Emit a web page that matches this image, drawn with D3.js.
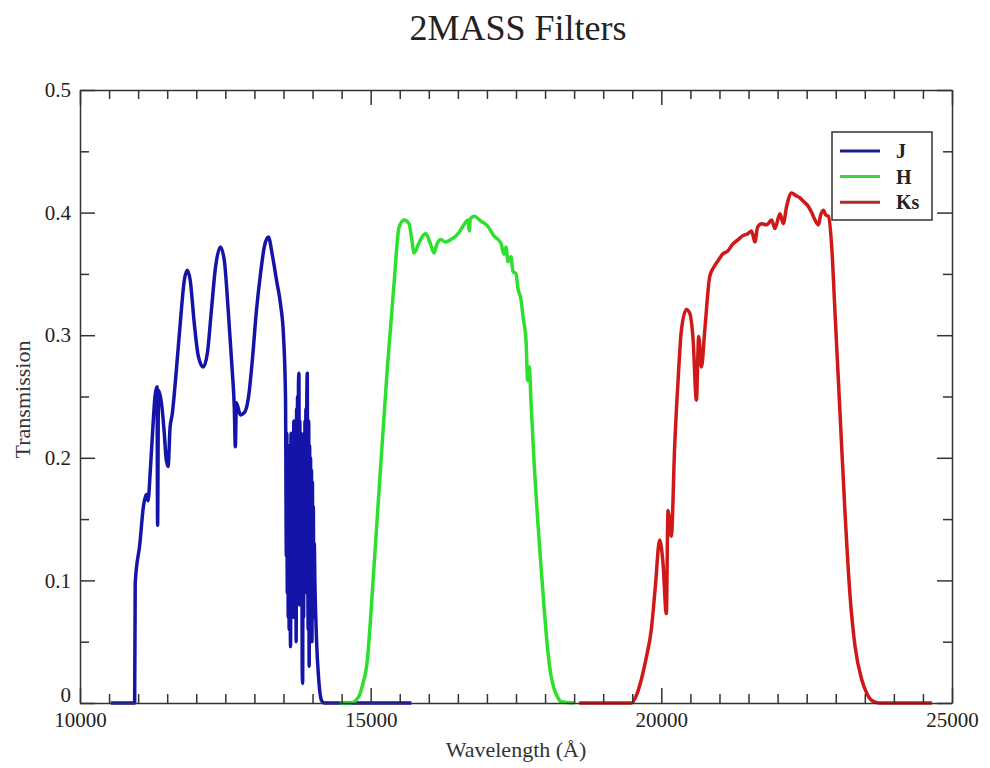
<!DOCTYPE html>
<html>
<head>
<meta charset="utf-8">
<script src="https://cdn.jsdelivr.net/npm/d3@7"></script>
<style>
  body { margin: 0; background: #fff; }
  svg { display: block; }
  .axis text { font-family: "Liberation Serif", "DejaVu Serif", serif; font-size: 21px; fill: #222; }
  .axis path, .axis line { stroke: #333; stroke-width: 1.5; }
</style>
</head>
<body>
<div id="container"></div>
<script>
// transmission curves: [wavelength (Å), transmission]
const jBand = [
  [10530, 0], [10940, 0], [10950, 0.098], [11030, 0.13], [11090, 0.16], [11140, 0.17],
  [11170, 0.165], [11210, 0.19], [11260, 0.23], [11290, 0.25], [11325, 0.258], [11335, 0.145],
  [11350, 0.255], [11400, 0.245], [11450, 0.22], [11480, 0.20], [11515, 0.193], [11550, 0.225],
  [11585, 0.235], [11655, 0.27], [11725, 0.31], [11795, 0.345], [11845, 0.353], [11895, 0.345],
  [11965, 0.31], [12035, 0.283], [12120, 0.274], [12190, 0.285], [12260, 0.32], [12330, 0.355],
  [12415, 0.372], [12485, 0.36], [12550, 0.32], [12620, 0.27], [12655, 0.24], [12672, 0.209],
  [12690, 0.245], [12760, 0.235], [12830, 0.237], [12900, 0.25], [12965, 0.28], [13035, 0.32],
  [13105, 0.35], [13170, 0.372], [13240, 0.38], [13310, 0.365], [13380, 0.345], [13450, 0.325],
  [13500, 0.30], [13535, 0.25],
  // the noisy red edge of J
  [13550, 0.12], [13558, 0.22], [13566, 0.09], [13574, 0.21], [13582, 0.07], [13590, 0.20],
  [13598, 0.06], [13606, 0.21], [13614, 0.10], [13622, 0.046], [13630, 0.22], [13638, 0.11],
  [13646, 0.21], [13654, 0.08], [13662, 0.22], [13670, 0.07], [13678, 0.23], [13686, 0.12],
  [13694, 0.22], [13702, 0.09], [13710, 0.23], [13718, 0.05], [13726, 0.24], [13734, 0.11],
  [13742, 0.25], [13750, 0.13], [13758, 0.26], [13766, 0.269], [13774, 0.08], [13782, 0.23],
  [13790, 0.10], [13798, 0.22], [13806, 0.12], [13814, 0.21], [13822, 0.03], [13830, 0.016],
  [13838, 0.20], [13846, 0.07], [13854, 0.22], [13862, 0.10], [13870, 0.23], [13878, 0.09],
  [13886, 0.24], [13894, 0.11], [13902, 0.25], [13910, 0.269], [13918, 0.12], [13926, 0.06],
  [13934, 0.23], [13942, 0.03], [13950, 0.21], [13958, 0.08], [13966, 0.20], [13974, 0.06],
  [13982, 0.19], [13990, 0.05], [13998, 0.18], [14006, 0.08], [14014, 0.16], [14022, 0.07],
  [14030, 0.13], [14040, 0.10],
  [14070, 0.05], [14105, 0.02], [14155, 0.002], [14200, 0], [15700, 0]
];

const hBand = [
  [14466, 0], [14655, 0], [14793, 0.005], [14862, 0.015], [14943, 0.035], [15000, 0.07],
  [15057, 0.111], [15172, 0.193], [15288, 0.274], [15402, 0.342], [15488, 0.388], [15574, 0.394],
  [15660, 0.391], [15707, 0.378], [15747, 0.367], [15828, 0.375], [15897, 0.381], [15948, 0.383],
  [16017, 0.376], [16091, 0.367], [16138, 0.374], [16207, 0.378], [16293, 0.376], [16379, 0.378],
  [16466, 0.381], [16522, 0.384], [16603, 0.390], [16672, 0.394], [16695, 0.385], [16715, 0.395],
  [16781, 0.397], [16897, 0.393], [17012, 0.389], [17121, 0.381], [17241, 0.375], [17293, 0.366],
  [17328, 0.372], [17362, 0.360], [17414, 0.364], [17448, 0.352], [17500, 0.350], [17534, 0.338],
  [17586, 0.329], [17621, 0.315], [17672, 0.296], [17700, 0.263], [17728, 0.274], [17759, 0.245],
  [17815, 0.193], [17872, 0.150], [17931, 0.111], [17988, 0.075], [18046, 0.043], [18103, 0.022],
  [18160, 0.011], [18224, 0.004], [18276, 0.001], [18500, 0]
];

const ksBand = [
  [18586, 0], [19483, 0], [19569, 0.006], [19655, 0.019], [19741, 0.037], [19828, 0.060],
  [19897, 0.095], [19971, 0.133], [20029, 0.114], [20086, 0.073], [20115, 0.157], [20172, 0.136],
  [20229, 0.209], [20288, 0.263], [20345, 0.304], [20431, 0.321], [20488, 0.318], [20547, 0.296],
  [20603, 0.247], [20643, 0.299], [20690, 0.274], [20747, 0.304], [20833, 0.348], [20897, 0.355],
  [20978, 0.361], [21052, 0.366], [21150, 0.369], [21224, 0.374], [21322, 0.378], [21397, 0.381],
  [21495, 0.383], [21552, 0.385], [21609, 0.376], [21655, 0.388], [21724, 0.391], [21810, 0.390],
  [21897, 0.394], [21954, 0.387], [22040, 0.399], [22098, 0.391], [22155, 0.405], [22241, 0.416],
  [22310, 0.414], [22384, 0.412], [22448, 0.409], [22529, 0.405], [22586, 0.400], [22643, 0.394],
  [22702, 0.390], [22741, 0.398], [22788, 0.402], [22828, 0.398], [22874, 0.397], [22931, 0.372],
  [22988, 0.318], [23074, 0.236], [23160, 0.155], [23247, 0.087], [23333, 0.046], [23448, 0.019],
  [23534, 0.008], [23621, 0.002], [23741, 0], [24655, 0]
];

const bandNames = ["J", "H", "Ks"];
const bandColors = ["#1414a8", "#2ee02e", "#d01818"];
const legendColors = ["#1c1c90", "#40d040", "#b02a2a"];

const xTicks = [10000, 15000, 20000, 25000];
const yTicks = [0, 0.1, 0.2, 0.3, 0.4, 0.5];

const width = 990, height = 768;
const plot = { left: 80, right: 952, top: 90, bottom: 703 };

const x = d3.scaleLinear().domain([10000, 25000]).range([plot.left, plot.right]);
const y = d3.scaleLinear().domain([0, 0.5]).range([plot.bottom, plot.top]);

const svg = d3.select("#container").append("svg")
  .attr("width", width)
  .attr("height", height)
  .style("background", "#fff");

const serif = '"Liberation Serif", "DejaVu Serif", serif';

// curves
const line = d3.line()
  .x(d => x(d[0]))
  .y(d => y(d[1]))
  .curve(d3.curveMonotoneX);
const bands = [jBand, hBand, ksBand];

svg.append("g")
  .selectAll("path")
  .data(bands)
  .join("path")
  .attr("d", line)
  .attr("fill", "none")
  .attr("stroke", (d, i) => bandColors[i])
  .attr("stroke-width", 3.5)
  .attr("stroke-linejoin", "round");

// axes, ticks point inward on all four sides
const minorX = d3.range(10000, 25001, 500).filter(v => v % 5000 !== 0);
const minorY = d3.range(0.05, 0.5, 0.1);

function frameAxis(kind, scale, translate, major, minor, labelFormat) {
  const g = svg.append("g").attr("class", "axis").attr("transform", translate);
  g.call(d3[kind](scale).tickValues(minor).tickSize(-9).tickFormat(""));
  g.select(".domain").remove();
  const m = svg.append("g").attr("class", "axis").attr("transform", translate);
  m.call(d3[kind](scale).tickValues(major).tickSizeInner(-15).tickSizeOuter(0)
    .tickPadding(labelFormat ? 9 : 0)
    .tickFormat(labelFormat || ""));
  return m;
}

frameAxis("axisBottom", x, `translate(0,${plot.bottom})`, xTicks, minorX, d3.format("d"));
frameAxis("axisTop", x, `translate(0,${plot.top})`, xTicks, minorX, null);
const leftAxis = frameAxis("axisLeft", y, `translate(${plot.left},0)`, yTicks, minorY,
  d => d === 0 ? "0" : d3.format(".1f")(d));
frameAxis("axisRight", y, `translate(${plot.right},0)`, yTicks, minorY, null);

// the "0" sits just above the "10000" like in the original
leftAxis.selectAll(".tick text").filter(d => d === 0).attr("dy", "-0.05em");

// title and axis labels
svg.append("text")
  .attr("x", (plot.left + plot.right) / 2 + 2)
  .attr("y", 40)
  .attr("text-anchor", "middle")
  .style("font-family", serif)
  .style("font-size", "36px")
  .attr("fill", "#222")
  .text("2MASS Filters");

svg.append("text")
  .attr("x", (plot.left + plot.right) / 2)
  .attr("y", 757)
  .attr("text-anchor", "middle")
  .style("font-family", serif)
  .style("font-size", "22px")
  .attr("fill", "#333")
  .text("Wavelength (Å)");

svg.append("text")
  .attr("transform", `translate(30,${(plot.top + plot.bottom) / 2 + 3}) rotate(-90)`)
  .attr("text-anchor", "middle")
  .style("font-family", serif)
  .style("font-size", "22px")
  .attr("fill", "#333")
  .text("Transmission");

// legend
const legend = svg.append("g").attr("transform", "translate(832,132)");
legend.append("rect")
  .attr("width", 100).attr("height", 88)
  .attr("fill", "#fff").attr("stroke", "#333").attr("stroke-width", 1.5);

const item = legend.selectAll("g.item")
  .data(bandNames)
  .join("g")
  .attr("class", "item")
  .attr("transform", (d, i) => `translate(0,${19 + i * 25.6})`);

item.append("line")
  .attr("x1", 8).attr("x2", 48)
  .attr("stroke", (d, i) => legendColors[i])
  .attr("stroke-width", 3);

item.append("text")
  .attr("x", 64)
  .attr("dy", "0.35em")
  .style("font-family", serif)
  .style("font-size", "20px")
  .style("font-weight", "bold")
  .attr("fill", "#222")
  .text(d => d);
</script>
</body>
</html>
